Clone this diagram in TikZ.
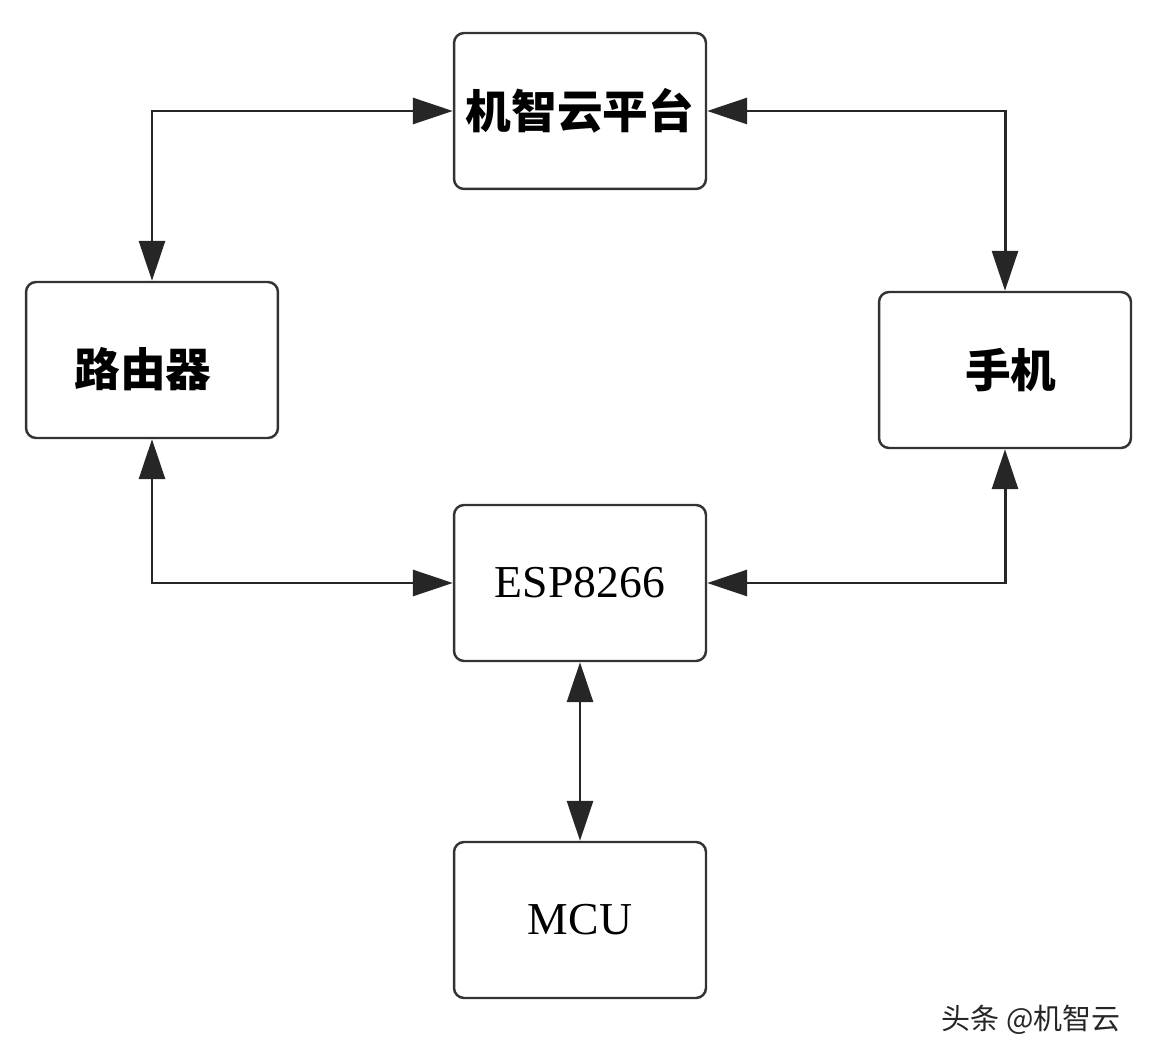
\documentclass[tikz,border=0pt]{standalone}
\usepackage{fontspec}
\setmainfont{Liberation Serif}
\newfontfamily\cjk{Noto Sans CJK SC}
\usepackage{tikz}
\usetikzlibrary{arrows.meta}

\tikzset{
    block/.style={draw=black!80, line width=1.4pt, rounded corners=0.2cm, fill=white,
        minimum width=5.04cm, minimum height=3.12cm, font=\fontsize{26}{30}\selectfont},
    link/.style={line width=1.7pt, black!85, {Triangle[length=0.8cm, width=0.52cm]}-{Triangle[length=0.8cm, width=0.52cm]}}
}

\begin{document}
\begin{tikzpicture}[x=0.02cm, y=-0.02cm]
                \useasboundingbox (0,0) rectangle (1150,1060);
                \node [block] (cloud) at (580,111) {\cjk\bfseries 机智云平台};
                \node [block] (router) at (152,360) {\cjk\bfseries\rule{0pt}{1.25em}路由器\rule{0.4em}{0pt}};
                \node [block] (phone) at (1005,370) {\cjk\bfseries\rule{0.25em}{0pt}手机};
                \node [block] (esp) at (580,583) {ESP8266};
                \node [block] (mcu) at (580,920) {MCU};
                \draw [link] (router.north) |- (cloud.west);
                \draw [link] (cloud.east) -| (phone.north);
                \draw [link] (router.south) |- (esp.west);
                \draw [link] (phone.south) |- (esp.east);
                \draw [link] (esp.south) -- (mcu.north);
                % watermark
                \node [font=\cjk\fontsize{16.5}{19}\selectfont, text=black!85, anchor=east] (mark) at (1127,1020) {头条 @机智云};
            \end{tikzpicture}
\end{document}
